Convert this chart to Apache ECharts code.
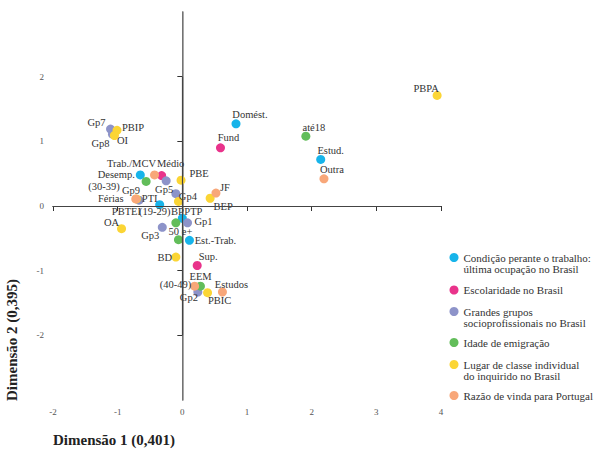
<!DOCTYPE html>
<html>

	<head>
		<meta charset="UTF-8">
		<title></title>
		<style>
			html, body { margin: 0; padding: 0; background: #fff; }
			#myChart { width: 600px; height: 455px; }
		</style>
	</head>

	<body>
		<div id="myChart"></div>
		<script src="https://cdn.jsdelivr.net/npm/echarts@6/dist/echarts.min.js"></script>
		<script>
			// series names (legend order)
			var seriesNames = [
				'Condição perante o trabalho:\núltima ocupação no Brasil',
				'Escolaridade no Brasil',
				'Grandes grupos\nsocioprofissionais no Brasil',
				'Idade de emigração',
				'Lugar de classe individual\ndo inquirido no Brasil',
				'Razão de vinda para Portugal'
			];
			var seriesColors = ['#17b4ea', '#e9338b', '#8d93c9', '#62bd5a', '#fbd535', '#f8a779'];

			// [dimensão 1, dimensão 2, rótulo]
			var condicaoTrabalho = [
				[0.83, 1.27, 'Domést.'],
				[2.14, 0.72, 'Estud.'],
				[-0.65, 0.48, 'Desemp.'],
				[-0.35, 0.02, 'PTI'],
				[0.00, -0.19, 'PTP'],
				[0.11, -0.53, 'Est.-Trab.']
			];
			var escolaridade = [
				[0.59, 0.90, 'Fund'],
				[-0.32, 0.47, 'Médio'],
				[0.23, -0.92, 'Sup.']
			];
			var gruposProf = [
				[-1.11, 1.19, 'Gp7'],
				[-1.08, 1.11, 'Gp8'],
				[-0.25, 0.39, 'Gp5'],
				[-0.10, 0.19, 'Gp4'],
				[-0.67, 0.09, 'Gp9'],
				[0.08, -0.26, 'Gp1'],
				[-0.31, -0.33, 'Gp3'],
				[0.24, -1.33, 'Gp2']
			];
			var idadeEmigracao = [
				[1.91, 1.08, 'até18'],
				[-0.56, 0.38, '(30-39)'],
				[-0.10, -0.26, '(19-29)'],
				[-0.06, -0.52, '50 e+'],
				[0.28, -1.24, '(40-49)']
			];
			var lugarClasse = [
				[3.94, 1.71, 'PBPA'],
				[-1.01, 1.17, 'PBIP'],
				[-1.05, 1.09, 'OI'],
				[-0.02, 0.40, 'PBE'],
				[0.43, 0.12, 'BEP'],
				[-0.06, 0.07, 'BP'],
				[-0.71, 0.11, 'PBTEI'],
				[-0.94, -0.35, 'OA'],
				[-0.10, -0.79, 'BD'],
				[0.39, -1.34, 'PBIC']
			];
			var razaoVinda = [
				[2.19, 0.42, 'Outra'],
				[-0.43, 0.48, 'Trab./MCV'],
				[0.52, 0.20, 'JF'],
				[-0.72, 0.11, 'Férias'],
				[0.19, -1.24, 'EEM'],
				[0.62, -1.33, 'Estudos']
			];
			var xTicks = [-2, -1, 0, 1, 2, 3, 4];
			var yTicks = [-2, -1, 0, 1, 2];

			// label placement (pixel offset of label centre from the point)
			var labelOffset = {
				'Domést.': [14, -9], 'Estud.': [10, -9], 'Desemp.': [-24, 0], 'PTI': [-10, -6],
				'PTP': [11, -7], 'Est.-Trab.': [26, 0],
				'Fund': [8, -10], 'Médio': [9, -12], 'Sup.': [11, -9],
				'Gp7': [-14, -7], 'Gp8': [-12, 9], 'Gp5': [-2, 9], 'Gp4': [12, 3], 'Gp9': [-8, -10],
				'Gp1': [16, -1], 'Gp3': [-12, 8], 'Gp2': [-9, 5],
				'até18': [8, -9], '(30-39)': [-42, 5], '(19-29)': [-21, -11], '50 e+': [2, -8], '(40-49)': [-25, -2],
				'PBPA': [-11, -7], 'PBIP': [16, -3], 'OI': [8, 5], 'PBE': [18, -7], 'BEP': [13, 8],
				'BP': [-1, 10], 'PBTEI': [-10, 13], 'OA': [-10, -6], 'BD': [-11, 0], 'PBIC': [12, 8],
				'Outra': [8, -9], 'Trab./MCV': [-23, -11], 'JF': [9, -6], 'Férias': [-25, 0],
				'EEM': [6, -10], 'Estudos': [9, -8]
			};

			var fontFamily = '"Liberation Serif", "DejaVu Serif", serif';
			var myChart;
			initChart();

			function initChart() {
				myChart = echarts.init(document.getElementById('myChart'), null, { renderer: 'svg' });
				myChart.setOption(initOptions());
			}

			function toData(list) {
				return list.map(function(p) {
					var off = labelOffset[p[2]] || [0, -9];
					return {
						name: p[2],
						value: [p[0], p[1]],
						label: { offset: off }
					};
				});
			}

			function buildLegends() {
				// centre of each legend marker
				var centres = [257.5, 290, 311.5, 342.5, 364.5, 395.5];
				return seriesNames.map(function(name, i) {
					var twoLines = name.indexOf('\n') >= 0;
					return {
						data: [name],
						left: 449.5,
						top: twoLines ? centres[i] - 16.5 : centres[i] - 5.5,
						padding: 0,
						icon: 'circle',
						itemWidth: 9,
						itemHeight: 9,
						selectedMode: false,
						formatter: function(n) {
							// empty first line keeps the marker next to the first text line
							return twoLines ? '\n' + n : n;
						},
						textStyle: {
							fontFamily: fontFamily,
							fontSize: 11,
							color: '#333',
							lineHeight: 11
						}
					};
				});
			}

			function initOptions() {
				var groups = [condicaoTrabalho, escolaridade, gruposProf, idadeEmigracao, lugarClasse, razaoVinda];
				var series = [{
					type: 'scatter',
					data: [],
					z: 1,
					silent: true,
					markLine: {
						silent: true,
						symbol: ['none', 'none'],
						label: { show: false },
						lineStyle: { color: '#444', width: 1.2, type: 'solid' },
						data: [
							[{ coord: [-2, 0] }, { coord: [4, 0] }],
							[{ coord: [0, -2] }, { coord: [0, 2] }]
						]
					}
				}];
				groups.forEach(function(g, i) {
					series.push({
						name: seriesNames[i],
						type: 'scatter',
						symbol: 'circle',
						symbolSize: 9,
						z: 2,
						itemStyle: { color: seriesColors[i], opacity: 1 },
						label: {
							show: true,
							position: 'inside',
							formatter: '{b}',
							fontFamily: fontFamily,
							fontSize: 10.5,
							color: '#333'
						},
						emphasis: { disabled: true },
						data: toData(g)
					});
				});

				return {
					animation: false,
					backgroundColor: '#fff',
					grid: {
						left: 53,
						right: 159,
						top: 12,
						bottom: 55
					},
					legend: buildLegends(),
					xAxis: [{
						type: 'value',
						min: -2,
						max: 4,
						interval: 1,
						position: 'bottom',
						splitLine: { show: false },
						axisLine: { lineStyle: { color: '#333', width: 1 } },
						axisTick: { length: 5, customValues: xTicks, lineStyle: { color: '#333' } },
						axisLabel: {
							customValues: xTicks,
							margin: 7,
							fontFamily: fontFamily,
							fontSize: 9,
							color: '#555'
						}
					}, {
						type: 'value',
						min: -2,
						max: 4,
						position: 'top',
						axisLine: { show: true, lineStyle: { color: '#333', width: 1 } },
						axisTick: { show: false },
						axisLabel: { show: false },
						splitLine: { show: false }
					}],
					yAxis: [{
						type: 'value',
						min: -3,
						max: 3,
						interval: 1,
						position: 'left',
						splitLine: { show: false },
						axisLine: { show: true, lineStyle: { color: '#333', width: 1 } },
						axisTick: { show: true, length: 5, customValues: yTicks, lineStyle: { color: '#333' } },
						axisLabel: {
							customValues: yTicks,
							margin: 9,
							fontFamily: fontFamily,
							fontSize: 9,
							color: '#555'
						}
					}, {
						type: 'value',
						min: -3,
						max: 3,
						position: 'right',
						axisLine: { show: true, lineStyle: { color: '#8a8a8a', width: 1.5 } },
						axisTick: { show: false },
						axisLabel: { show: false },
						splitLine: { show: false }
					}],
					graphic: [{
						type: 'text',
						left: 53,
						top: 432,
						style: {
							text: 'Dimensão 1 (0,401)',
							font: 'bold 15px ' + fontFamily,
							fill: '#222'
						}
					}, {
						type: 'text',
						x: 4,
						y: 401,
						rotation: Math.PI / 2,
						style: {
							text: 'Dimensão 2 (0,395)',
							font: 'bold 15px ' + fontFamily,
							fill: '#222',
							align: 'left',
							verticalAlign: 'top'
						}
					}],
					series: series
				};
			}
		</script>
	</body>

</html>
